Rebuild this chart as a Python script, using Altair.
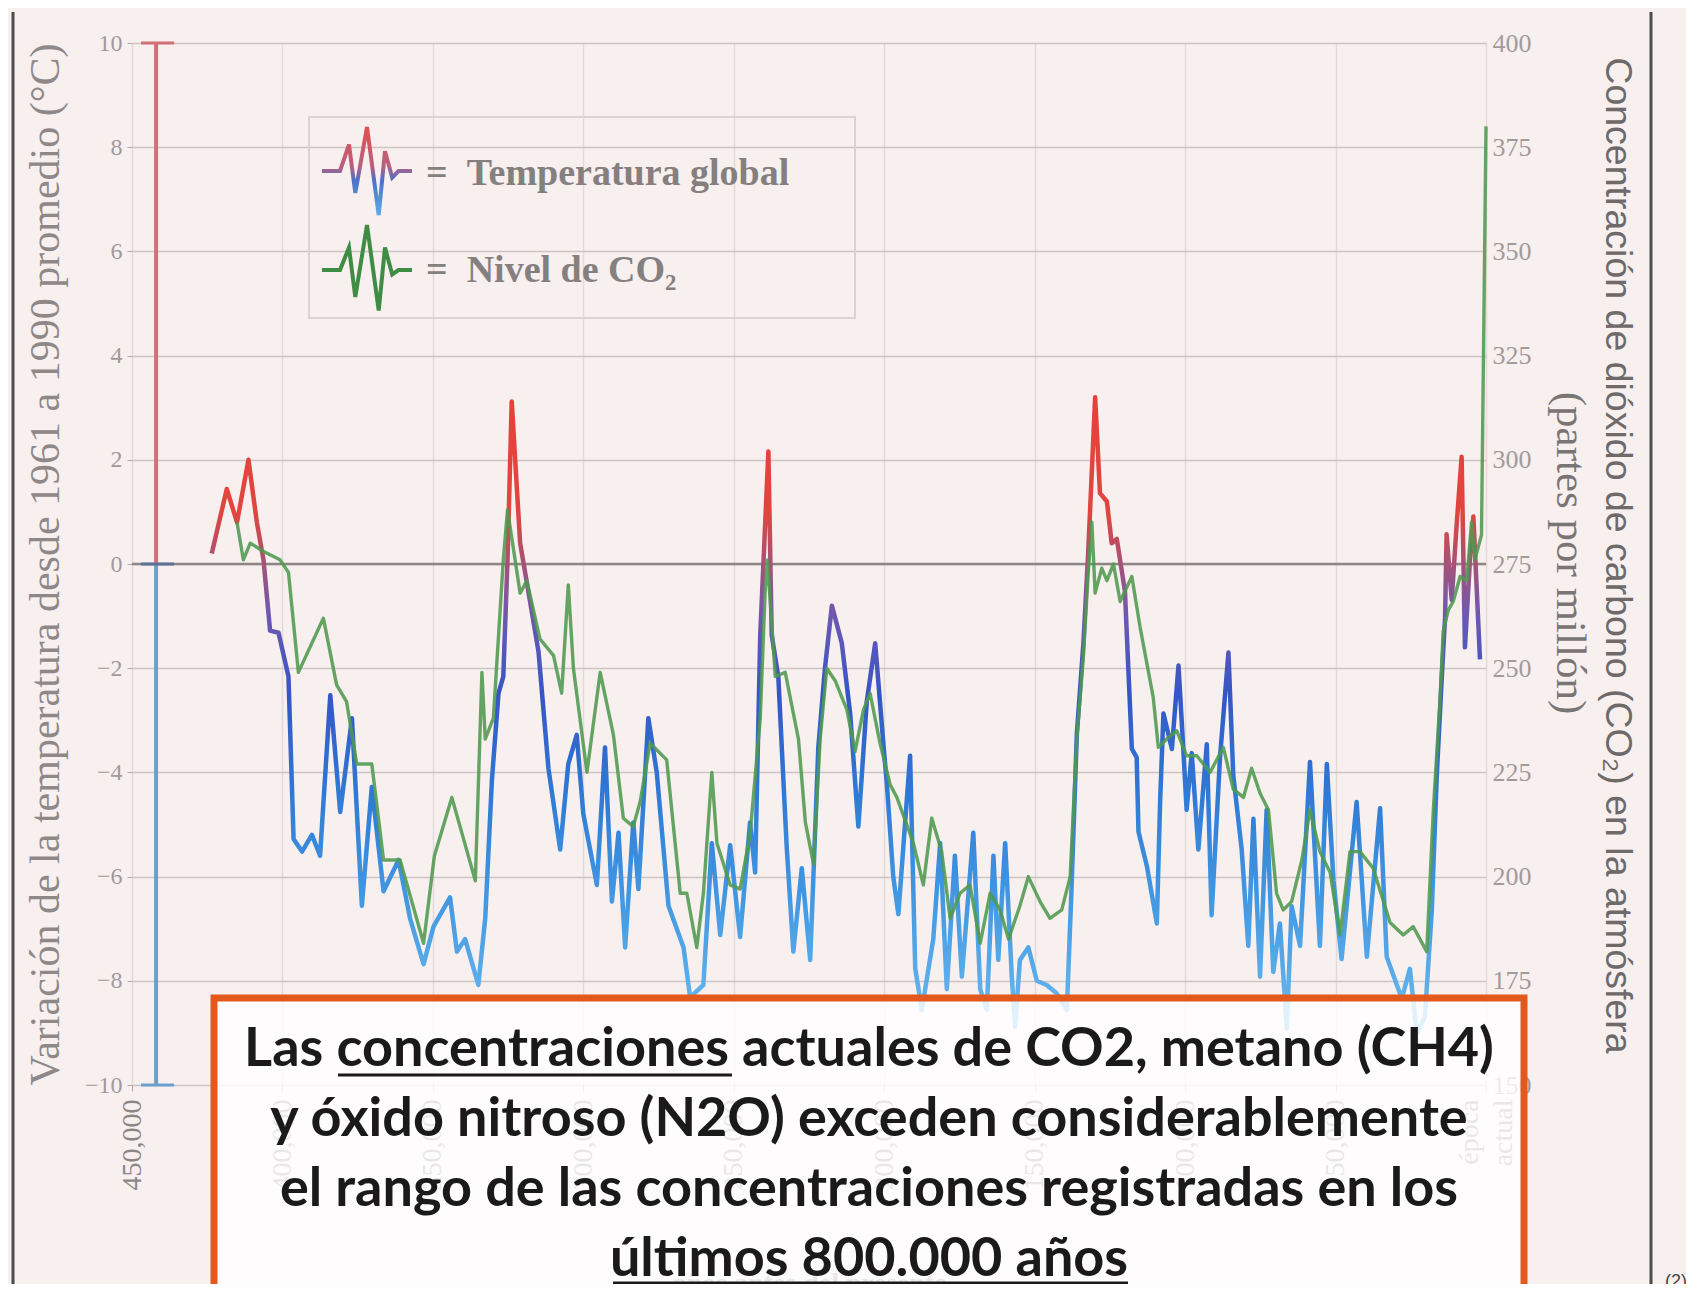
import altair as alt
import pandas as pd

# ---------------- data ----------------
temp_kyr = [
    423.5, 418.5, 415.1, 411.3, 408.5, 406.3, 404.1, 401.3, 398.0, 396.3,
    393.5, 390.2, 387.5, 384.1, 380.8, 376.9, 373.6, 370.3, 366.4, 361.4,
    357.6, 353.1, 349.8, 344.3, 342.0, 339.3, 334.9, 332.6, 330.4, 328.2,
    326.6, 325.2, 323.8, 321.0, 317.7, 314.9, 311.6, 307.7, 305.0, 302.2,
    300.0, 295.5, 292.8, 290.5, 288.3, 286.1, 283.4, 281.7, 278.4, 275.6,
    271.7, 266.7, 264.5, 260.1, 257.3, 254.5, 251.2, 247.9, 244.6, 242.9,
    241.2, 238.5, 237.4, 235.2, 233.5, 232.4, 230.2, 227.4, 224.6, 221.9,
    219.7, 217.4, 214.1, 211.3, 208.6, 205.8, 203.0, 200.3, 199.1, 197.0,
    195.3, 191.4, 189.7, 187.5, 183.7, 181.4, 179.2, 176.5, 174.2, 170.4,
    168.1, 165.9, 163.7, 162.1, 159.8, 157.6, 156.5, 154.9, 152.1, 149.3,
    146.0, 142.7, 139.3, 137.7, 136.0, 133.8, 132.2, 129.9, 128.3, 126.0,
    124.4, 122.7, 120.0, 117.7, 116.1, 115.5, 112.7, 109.4, 108.3, 107.2,
    104.4, 102.2, 100.6, 99.5, 97.8, 95.6, 92.8, 91.2, 88.4, 85.6,
    84.0, 81.2, 79.0, 77.3, 75.1, 72.9, 70.7, 68.5, 66.2, 64.6,
    61.8, 58.5, 55.2, 52.9, 50.7, 48.0, 43.0, 39.6, 35.2, 33.0,
    28.0, 25.3, 23.0, 20.3, 18.0, 16.4, 14.7, 13.6, 13.1, 11.4,
    9.7, 8.1, 7.0, 5.3, 4.2, 2.0,
]
temp_c = [
    0.2, 1.44, 0.8, 2.0, 0.8, 0.08, -1.28, -1.32, -2.16, -5.28,
    -5.52, -5.2, -5.6, -2.52, -4.76, -2.96, -6.56, -4.28, -6.28, -5.68,
    -6.8, -7.68, -6.96, -6.4, -7.44, -7.2, -8.08, -6.8, -4.16, -2.48,
    -2.16, 0.08, 3.12, 0.4, -0.72, -1.68, -3.92, -5.48, -3.84, -3.28,
    -4.8, -6.16, -3.52, -6.48, -5.16, -7.36, -4.96, -6.24, -2.96, -4.0,
    -6.56, -7.36, -8.32, -8.08, -5.36, -7.12, -5.4, -7.16, -4.96, -5.92,
    -1.36, 2.16, -1.36, -2.16, -4.16, -5.44, -7.44, -5.84, -7.6, -3.52,
    -2.0, -0.8, -1.52, -2.88, -5.04, -2.64, -1.52, -3.44, -4.24, -6.0,
    -6.72, -3.68, -7.76, -8.56, -7.2, -5.36, -8.16, -5.6, -7.92, -5.16,
    -8.16, -8.56, -5.6, -7.6, -5.36, -7.92, -8.88, -7.6, -7.36, -8.0,
    -8.08, -8.24, -8.56, -6.16, -3.28, -1.52, 0.24, 3.2, 1.36, 1.2,
    0.4, 0.48, -0.52, -3.55, -3.71, -5.14, -5.8, -6.9, -4.55, -2.87,
    -3.55, -1.95, -3.55, -4.72, -3.63, -5.48, -3.46, -6.74, -3.71, -1.7,
    -4.05, -5.48, -7.33, -4.89, -7.92, -4.72, -7.83, -6.9, -8.92, -6.57,
    -7.33, -3.8, -7.33, -3.84, -6.07, -7.58, -4.57, -7.54, -4.69, -7.54,
    -8.34, -7.77, -9.0, -8.69, -6.63, -4.11, -2.17, -1.03, 0.57, -0.69,
    0.8, 2.06, -1.6, 0.11, 0.91, -1.83,
]
co2_kyr = [
    415.1, 413.0, 410.7, 406.3, 400.8, 398.0, 394.7, 386.4, 382.0, 378.7,
    375.3, 370.3, 366.4, 360.9, 353.1, 349.5, 343.7, 335.9, 333.7, 332.6,
    329.9, 326.6, 325.2, 321.0, 318.8, 314.4, 309.9, 307.2, 305.0, 303.3,
    298.8, 294.4, 290.0, 286.7, 283.4, 281.1, 277.8, 272.3, 267.8, 265.6,
    262.3, 260.1, 257.3, 255.6, 251.2, 247.9, 244.6, 241.2, 239.6, 238.8,
    236.2, 232.9, 228.5, 226.2, 223.5, 221.3, 219.1, 216.3, 212.4, 209.7,
    206.9, 204.7, 201.4, 198.0, 195.8, 190.3, 187.0, 184.2, 180.9, 178.1,
    174.8, 171.5, 168.1, 164.8, 161.5, 158.7, 154.9, 152.1, 148.2, 144.9,
    141.0, 138.2, 136.0, 133.8, 132.2, 131.0, 129.9, 127.7, 126.0, 123.8,
    121.6, 117.7, 115.0, 110.6, 108.9, 106.1, 102.8, 99.5, 96.1, 91.7,
    87.3, 84.0, 80.6, 77.9, 75.1, 72.3, 69.6, 67.4, 64.6, 61.2,
    58.5, 55.2, 51.8, 48.5, 45.2, 41.9, 37.5, 31.9, 27.5, 24.2,
    19.7, 17.5, 15.3, 14.2, 12.5, 10.9, 8.6, 6.4, 4.8, 3.7,
    1.5, 0.0,
]
co2_ppm = [
    285, 276, 280, 278, 276, 273, 249, 262, 246, 242,
    227, 227, 204, 204, 184, 205, 219, 199, 249, 233,
    238, 276, 288, 268, 271, 257, 253, 244, 270, 250,
    225, 249, 234, 214, 212, 218, 232, 228, 196, 196,
    183, 196, 225, 208, 198, 197, 210, 238, 268, 276,
    248, 249, 233, 213, 203, 233, 250, 247, 240, 230,
    240, 244, 232, 222, 219, 208, 198, 214, 206, 190,
    196, 198, 184, 196, 192, 185, 193, 200, 194, 190,
    192, 200, 233, 253, 273, 285, 268, 274, 271, 275,
    266, 272, 260, 243, 231, 233, 235, 229, 229, 225,
    231, 221, 219, 226, 220, 216, 196, 192, 194, 204,
    216, 206, 201, 186, 206, 206, 202, 189, 186, 188,
    182, 216, 242, 259, 264, 266, 272, 271, 285, 276,
    282, 380,
]
x_ticks = [450000, 400000, 350000, 300000, 250000, 200000, 150000, 100000, 50000, 0]
temp_ticks = [-10, -8, -6, -4, -2, 0, 2, 4, 6, 8, 10]
co2_ticks = [150, 175, 200, 225, 250, 275, 300, 325, 350, 375, 400]

# legend glyph shapes
icon_x = [0, 0.2, 0.3, 0.37, 0.5, 0.63, 0.7, 0.78, 0.85, 1.0]
icon_temp = [0, 0, 0.6, -0.5, 1.0, -1.0, 0.45, -0.15, 0, 0]
icon_co2 = [0, 0, 0.5, -0.6, 1.0, -0.9, 0.5, -0.1, 0, 0]

legend_labels = ["=\u00a0\u00a0Temperatura global", "=\u00a0\u00a0Nivel de CO\u2082"]
box_lines = [
    "Las concentraciones actuales de CO2, metano (CH4)",
    "y óxido nitroso (N2O) exceden considerablemente",
    "el rango de las concentraciones registradas en los",
    "últimos 800.000 años",
]
left_title = "Variación de la temperatura desde 1961 a 1990 promedio  (°C)"
right_title_1 = "Concentración de dióxido de carbono (CO\u2082) en la atmósfera"
right_title_2 = "(partes por millón)"
x_title = "años antes del presente"

# ---------------- frames ----------------
temp_df = pd.DataFrame({"years": [k * 1000 for k in temp_kyr], "temp": temp_c,
                        "i": list(range(len(temp_kyr)))})
co2_df = pd.DataFrame({"years": [k * 1000 for k in co2_kyr], "ppm": co2_ppm,
                       "i": list(range(len(co2_kyr)))})
icon_t_df = pd.DataFrame({"u": icon_x, "v": icon_temp, "i": list(range(len(icon_x)))})
icon_c_df = pd.DataFrame({"u": icon_x, "v": icon_co2, "i": list(range(len(icon_x)))})
cbar_df = pd.DataFrame({"x": [442000, 442000], "y": [0, -10], "y2": [10, 0],
                        "c": ["#d2707a", "#6b9fcc"]})
cticks_df = pd.DataFrame({"x": [447000] * 3, "x2": [436000] * 3, "y": [10, 0, -10],
                          "c": ["#d2707a", "#5d7394", "#6b9fcc"]})
one = pd.DataFrame({"k": [0]})

W, H = 1354, 1042
BG = "#f8efef"
SERIF = "Liberation Serif"

xs = alt.Scale(domain=[450000, 0], nice=False)
ys_t = alt.Scale(domain=[-10, 10], nice=False)
ys_c = alt.Scale(domain=[150, 400], nice=False)

temp_grad = alt.LinearGradient(
    gradient="linear", x1=0, x2=0, y1=0, y2=1,
    stops=[
        alt.GradientStop(offset=0.0, color="#e8403c"),
        alt.GradientStop(offset=0.18, color="#e0463e"),
        alt.GradientStop(offset=0.262, color="#a65276"),
        alt.GradientStop(offset=0.344, color="#6d58b2"),
        alt.GradientStop(offset=0.467, color="#3456c6"),
        alt.GradientStop(offset=0.63, color="#2f7bd6"),
        alt.GradientStop(offset=0.795, color="#4399e2"),
        alt.GradientStop(offset=1.0, color="#6cbcf0"),
    ],
)
icon_grad = alt.LinearGradient(
    gradient="linear", x1=0, x2=0, y1=0, y2=1,
    stops=[
        alt.GradientStop(offset=0.0, color="#e2504e"),
        alt.GradientStop(offset=0.45, color="#b86080"),
        alt.GradientStop(offset=0.6, color="#4c70c8"),
        alt.GradientStop(offset=1.0, color="#5eaae8"),
    ],
)

zero_rule = alt.Chart(one).mark_rule(color="#8e8686", strokeWidth=2.5).encode(
    y=alt.Y(datum=0, scale=ys_t, axis=None)
)

cbar = alt.Chart(cbar_df).mark_rule(strokeWidth=4).encode(
    x=alt.X("x:Q", scale=xs, axis=None),
    y=alt.Y("y:Q", scale=ys_t, axis=None),
    y2="y2:Q",
    color=alt.Color("c:N", scale=None),
)
cticks = alt.Chart(cticks_df).mark_rule(strokeWidth=3).encode(
    x=alt.X("x:Q", scale=xs, axis=None),
    x2="x2:Q",
    y=alt.Y("y:Q", scale=ys_t, axis=None),
    color=alt.Color("c:N", scale=None),
)

temp_line = alt.Chart(temp_df).mark_line(
    color=temp_grad, strokeWidth=4.5, strokeJoin="round"
).encode(
    x=alt.X("years:Q", scale=xs, axis=alt.Axis(
        values=x_ticks, format=",d",
        labelExpr="datum.value === 0 ? ['época', 'actual'] : datum.label",
        labelOffset={"condition": {"test": "datum.value === 0", "value": -17}, "value": 0},
        labelAngle=270, labelFont=SERIF, labelFontSize=28, labelColor="#8c8686",
        labelPadding=8, labelLineHeight=34, tickSize=6, tickColor="#b0a8a8",
        domain=False, grid=True, gridColor="#e3d9d9", gridWidth=1.5,
        title=x_title, titleFont=SERIF, titleFontSize=28, titleFontWeight="bold",
        titleColor="#8a8484", titleY=184, titleBaseline="top",
    )),
    y=alt.Y("temp:Q", scale=ys_t, axis=alt.Axis(
        values=temp_ticks, labelFont=SERIF, labelFontSize=24, labelColor="#a29a9a",
        labelPadding=5, tickSize=5, tickColor="#b0a8a8", domain=False,
        grid=True, gridColor="#cdc4c4", gridWidth=1.5,
        title=left_title, titleFont=SERIF, titleFontSize=42, titleFontWeight="normal",
        titleColor="#8e8888", titleAngle=270, titleX=-87, titleY=521,
        titleAlign="center", titleBaseline="middle",
    )),
    order="i:Q",
)

co2_line = alt.Chart(co2_df).mark_line(
    color="#4f9a4e", strokeWidth=3.4, opacity=0.88, strokeJoin="round"
).encode(
    x=alt.X("years:Q", scale=xs, axis=None),
    y=alt.Y("ppm:Q", scale=ys_c, axis=alt.Axis(
        orient="right", values=co2_ticks, labelFont=SERIF, labelFontSize=26,
        labelColor="#a29a9a", labelPadding=6, ticks=False, domain=False, grid=False,
        title=right_title_1, titleFont="Liberation Sans", titleFontSize=37.5,
        titleFontWeight="normal", titleColor="#6e6a6a", titleAngle=90,
        titleX=130, titleY=512, titleAlign="center", titleBaseline="middle",
    )),
    order="i:Q",
)

right_title_line2 = alt.Chart(one).mark_text(
    text=right_title_2, angle=90, font=SERIF, fontSize=43, color="#7a7575",
    align="center", baseline="middle",
).encode(x=alt.value(1438), y=alt.value(510))

# ---------------- legend ----------------
legend_box = alt.Chart(one).mark_rect(
    fillOpacity=0, stroke="#dcd2d2", strokeWidth=2
).encode(x=alt.value(177), x2=alt.value(723), y=alt.value(74), y2=alt.value(275))

icon_t = alt.Chart(icon_t_df).mark_line(color=icon_grad, strokeWidth=4).encode(
    x=alt.X("u:Q", scale=alt.Scale(domain=[0, 1], range=[190, 280]), axis=None),
    y=alt.Y("v:Q", scale=alt.Scale(domain=[-1, 1], range=[172, 84]), axis=None),
    order="i:Q",
)
icon_c = alt.Chart(icon_c_df).mark_line(color="#3f8c45", strokeWidth=4).encode(
    x=alt.X("u:Q", scale=alt.Scale(domain=[0, 1], range=[190, 280]), axis=None),
    y=alt.Y("v:Q", scale=alt.Scale(domain=[-1, 1], range=[272, 182]), axis=None),
    order="i:Q",
)
leg_t = alt.Chart(one).mark_text(
    text=legend_labels[0], font=SERIF, fontSize=38, fontWeight="bold",
    color="#858080", align="left", baseline="middle",
).encode(x=alt.value(294), y=alt.value(131))
leg_c = alt.Chart(one).mark_text(
    text=legend_labels[1], font=SERIF, fontSize=38, fontWeight="bold",
    color="#858080", align="left", baseline="middle",
).encode(x=alt.value(294), y=alt.value(228))

# ---------------- overlay box ----------------
box = alt.Chart(one).mark_rect(
    fill="white", fillOpacity=0.8, stroke="#e2581d", strokeWidth=7
).encode(x=alt.value(82), x2=alt.value(1392), y=alt.value(955), y2=alt.value(1320))

box_text = alt.Chart(one).mark_text(
    text=box_lines, font="Lato", fontSize=54, fontWeight="bold", color="#1a1a1a",
    align="center", baseline="middle", lineHeight=70,
).encode(x=alt.value(737), y=alt.value(1007))

underline_1 = alt.Chart(one).mark_rule(color="#1a1a1a", strokeWidth=3).encode(
    x=alt.value(206), x2=alt.value(600), y=alt.value(1032))
underline_2 = alt.Chart(one).mark_rule(color="#1a1a1a", strokeWidth=3).encode(
    x=alt.value(481), x2=alt.value(996), y=alt.value(1240))

frame_l = alt.Chart(one).mark_rule(color="#4d4d4d", strokeWidth=3).encode(
    x=alt.value(-119), y=alt.value(-31), y2=alt.value(1250))
frame_r = alt.Chart(one).mark_rule(color="#4d4d4d", strokeWidth=3).encode(
    x=alt.value(1519), y=alt.value(-31), y2=alt.value(1250))
note = alt.Chart(one).mark_text(
    text="(2)", font="Liberation Sans", fontSize=18, color="#444",
    align="left", baseline="top",
).encode(x=alt.value(1533), y=alt.value(1230))

chart = alt.layer(
    zero_rule, cbar, cticks, temp_line, co2_line, right_title_line2,
    legend_box, icon_t, icon_c, leg_t, leg_c,
    box, box_text, underline_1, underline_2, frame_l, frame_r, note,
).resolve_scale(
    x="independent", y="independent"
).properties(
    width=W, height=H,
    autosize=alt.AutoSizeParams(type="none"),
    padding={"left": 124, "top": 35, "right": 200, "bottom": 199},
    background=BG,
).configure_view(stroke=None)

chart.save("out.html", embed_options={"renderer": "svg", "actions": False})
